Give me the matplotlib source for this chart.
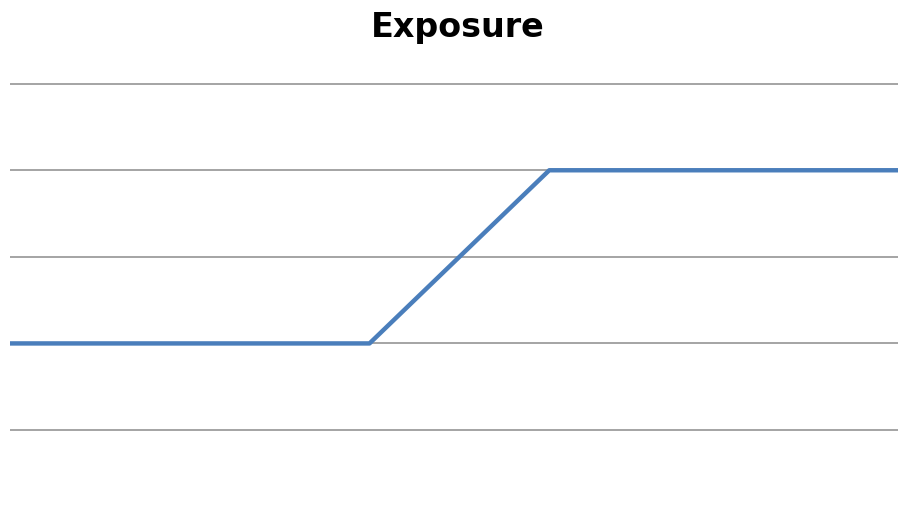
import matplotlib.pyplot as plt

# data
x_vals = [0, 10, 15, 24.7]
y_vals = [1, 1, 3, 3]
grid_levels = [0, 1, 2, 3, 4]
title_txt = "Exposure"

fig = plt.figure(figsize=(8.98, 5.14), dpi=100)
ax = fig.add_axes([10/898, 0, 1 - 10/898, (514 - 84) / 514 + 0.004])

ax.plot(x_vals, y_vals, color="#4A7EBB", linewidth=3.2, solid_capstyle="butt")

for g in grid_levels:
    ax.axhline(g, color="#8C8C8C", linewidth=1.1, zorder=0)

ax.set_xlim(0, 24.7)
ax.set_ylim(-0.97, 4.02)
ax.set_xticks([])
ax.set_yticks([])
for s in ax.spines.values():
    s.set_visible(False)

fig.text(457.5/898, 1 - 37/514, title_txt, ha="center", va="baseline",
         fontsize=24, fontweight="bold", family="DejaVu Sans")

fig.savefig("out.png", dpi=100)
